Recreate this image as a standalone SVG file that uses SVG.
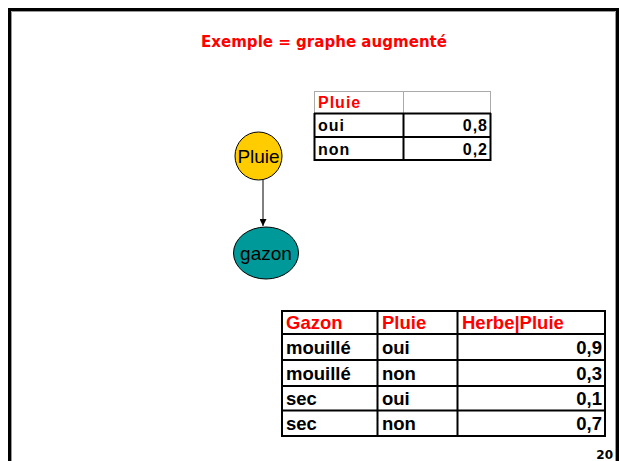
<svg xmlns="http://www.w3.org/2000/svg" width="619" height="461" viewBox="0 0 619 461">
<defs>
<marker id="arr" viewBox="0 0 10 10" refX="10" refY="5" markerWidth="7" markerHeight="7" markerUnits="userSpaceOnUse" orient="auto">
<path d="M0,0 L10,5 L0,10 z" fill="#000"/>
</marker>
</defs>
<style>
.frame{fill:none;stroke:#000;stroke-width:3}
.inner{fill:none;stroke:#999;stroke-width:1}
.title{font-family:"DejaVu Sans",Verdana,sans-serif;font-weight:bold;font-size:16px;fill:#FF0000}
.node{stroke:#000;stroke-width:1}
.nlabel{font-family:"Liberation Sans",Arial,sans-serif;font-size:19px;fill:#000;text-anchor:middle}
.grid{stroke:#000;stroke-width:2;fill:none}
.light{stroke:#aaa;stroke-width:1;fill:none}
.st{font-family:"Liberation Sans",Arial,sans-serif;font-weight:bold;font-size:16px;letter-spacing:1px;fill:#000}
.bt{font-family:"Liberation Sans",Arial,sans-serif;font-weight:bold;font-size:18.5px;fill:#000}
.red{fill:#FF0000}
.r{text-anchor:end}
.edge{stroke:#000;stroke-width:1;fill:none}
.pg{font-family:"DejaVu Sans",Tahoma,sans-serif;font-weight:bold;font-size:12px;fill:#000;text-anchor:end}
</style>
<rect width="619" height="461" fill="#fff"/>
<path class="frame" d="M9.5,461 V9.5 H617.5 V461"/>
<path class="inner" d="M11.5,461 V11.5 H615.5 V461"/>
<text class="title" x="201" y="47" textLength="246" lengthAdjust="spacingAndGlyphs">Exemple = graphe augmenté</text>

<g id="connectors">
<line class="edge" x1="263" y1="180" x2="263" y2="226" marker-end="url(#arr)"/>
</g>

<g id="pluie">
<ellipse class="node" cx="258.5" cy="156" rx="23.5" ry="24" fill="#FFCC00"/>
<text class="nlabel" x="258.5" y="163">Pluie</text>
</g>

<g id="gazon">
<ellipse class="node" cx="266" cy="253" rx="32.5" ry="26" fill="#009999"/>
<text class="nlabel" x="266" y="260">gazon</text>
</g>

<g id="table-pluie">
<path class="light" d="M314,91.5 H491 M403.5,91 V113 M490.5,91 V113 M314.5,91 V113"/>
<path class="grid" d="M314,113.5 H491 M314,137 H491 M314,160 H491 M314.5,113 V161 M403.5,113 V161 M490.5,113 V161"/>
<text class="st red" x="318" y="108">Pluie</text>
<text class="st" x="318" y="131">oui</text>
<text class="st r" x="488" y="131">0,8</text>
<text class="st" x="318" y="155">non</text>
<text class="st r" x="488" y="155">0,2</text>
</g>

<g id="table-gazon">
<path class="grid" d="M281,311 H606 M281,334 H606 M281,360 H606 M281,386 H606 M281,410.5 H606 M281,436 H606 M282,310 V437 M377.5,310 V437 M457.5,310 V437 M605,310 V437"/>
<text class="bt red" x="286" y="329">Gazon</text>
<text class="bt red" x="382" y="329">Pluie</text>
<text class="bt red" x="462" y="329">Herbe|Pluie</text>
<text class="bt" x="286" y="354">mouillé</text>
<text class="bt" x="382" y="354">oui</text>
<text class="bt r" x="602" y="354">0,9</text>
<text class="bt" x="286" y="380">mouillé</text>
<text class="bt" x="382" y="380">non</text>
<text class="bt r" x="602" y="380">0,3</text>
<text class="bt" x="286" y="405">sec</text>
<text class="bt" x="382" y="405">oui</text>
<text class="bt r" x="602" y="405">0,1</text>
<text class="bt" x="286" y="430">sec</text>
<text class="bt" x="382" y="430">non</text>
<text class="bt r" x="602" y="430">0,7</text>
</g>

<text class="pg" x="613" y="459">20</text>
</svg>
